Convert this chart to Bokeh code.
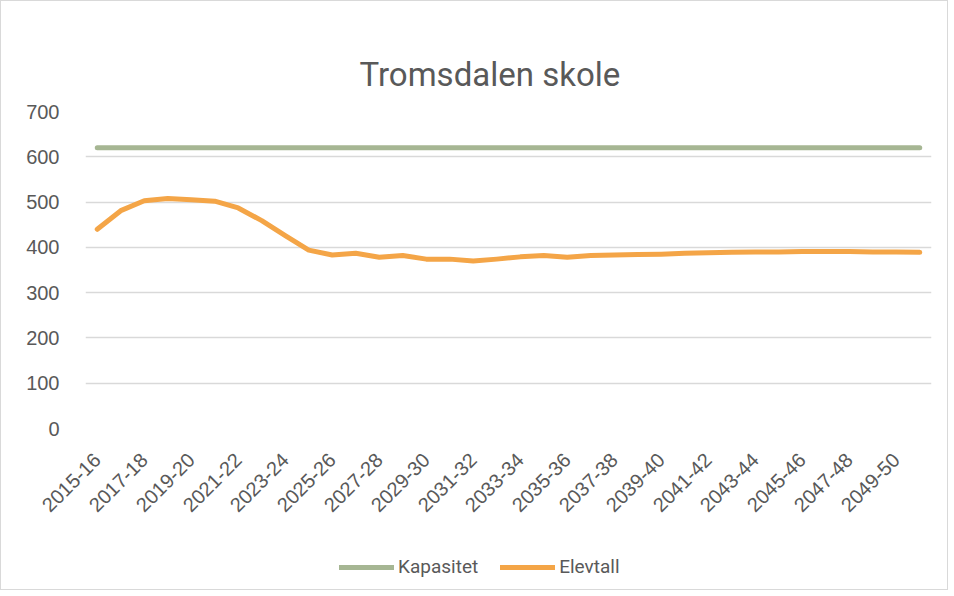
from bokeh.plotting import figure
from bokeh.layouts import column
from bokeh.models import Range1d, Legend, LegendItem, FixedTicker, Title
from bokeh.embed import file_html
from bokeh.resources import INLINE
import math

years = [f"{y}-{str(y + 1)[-2:]}" for y in range(2015, 2051)]
kapasitet = [620] * len(years)
elevtall = [440, 481, 503, 508, 505, 502, 487, 459, 426, 394,
            383, 387, 378, 382, 374, 374, 370, 374, 379, 382,
            378, 382, 383, 384, 385, 387, 388, 389, 390, 390,
            391, 391, 391, 390, 390, 389]
y_ticks = [0, 100, 200, 300, 400, 500, 600, 700]

TXT = "#595959"
GRID = "#d9d9d9"
GREEN = "#A6B693"
ORANGE = "#F4A547"

idx = list(range(len(years)))

p = figure(x_range=Range1d(-0.5, len(years) - 0.5), y_range=Range1d(0, 700),
           width=946, height=520,
           min_border_left=84, min_border_right=16, min_border_top=110, min_border_bottom=86,
           output_backend="svg", toolbar_location=None, title=None)
p.outline_line_color = None
p.background_fill_color = "white"
p.border_fill_color = "white"

t = Title(text="Tromsdalen skole", align="left", offset=274, text_font="Roboto",
          text_font_size="33px", text_color=TXT, text_font_style="normal", standoff=35)
p.add_layout(t, "above")

p.line(idx, kapasitet, line_color=GREEN, line_width=5, line_cap="round")
p.line(idx, elevtall, line_color=ORANGE, line_width=5, line_cap="round", line_join="round")

p.xgrid.grid_line_color = None
p.ygrid.grid_line_color = GRID
p.ygrid.grid_line_width = 1.3
p.yaxis.ticker = FixedTicker(ticks=y_ticks)
p.yaxis.axis_line_color = None
p.yaxis.major_tick_line_color = None
p.yaxis.minor_tick_line_color = None
p.yaxis.major_label_text_font = "Liberation Sans"
p.yaxis.major_label_text_font_size = "20px"
p.yaxis.major_label_text_color = TXT
p.yaxis.major_label_standoff = 20

p.xaxis.ticker = FixedTicker(ticks=idx[::2])
p.xaxis.axis_line_color = None
p.xaxis.major_tick_line_color = None
p.xaxis.minor_tick_line_color = None
p.xaxis.major_label_text_font = "Liberation Sans"
p.xaxis.major_label_text_font_size = "20px"
p.xaxis.major_label_text_color = TXT
p.xaxis.major_label_orientation = math.pi / 4
p.xaxis.major_label_standoff = 22
p.xaxis.major_label_overrides = {i: yr for i, yr in enumerate(years)}

# legend strip
p2 = figure(x_range=Range1d(-0.5, len(years) - 0.5), y_range=Range1d(0, 700),
            width=946, height=68, min_border=0, x_axis_type=None, y_axis_type=None,
            output_backend="svg", toolbar_location=None, title=None)
p2.outline_line_color = None
p2.grid.grid_line_color = None
p2.background_fill_color = "white"
p2.border_fill_color = "white"
g = p2.line(idx, kapasitet, line_color=GREEN, line_width=5, line_cap="round", visible=False)
o = p2.line(idx, elevtall, line_color=ORANGE, line_width=5, line_cap="round", visible=False)

legend = Legend(items=[LegendItem(label="Kapasitet", renderers=[g]),
                       LegendItem(label="Elevtall", renderers=[o])],
                orientation="horizontal", location=(254, 11),
                label_text_font="Roboto", label_text_font_size="19px",
                label_text_color=TXT, glyph_width=55, glyph_height=20, label_standoff=4,
                spacing=22, padding=0, margin=0, border_line_color=None,
                background_fill_alpha=0, inactive_fill_alpha=0)
p2.add_layout(legend, "center")

layout = column(p, p2, spacing=0, styles={"border": "1px solid #d9d9d9"})

open("out.html", "w").write(file_html(layout, INLINE))
